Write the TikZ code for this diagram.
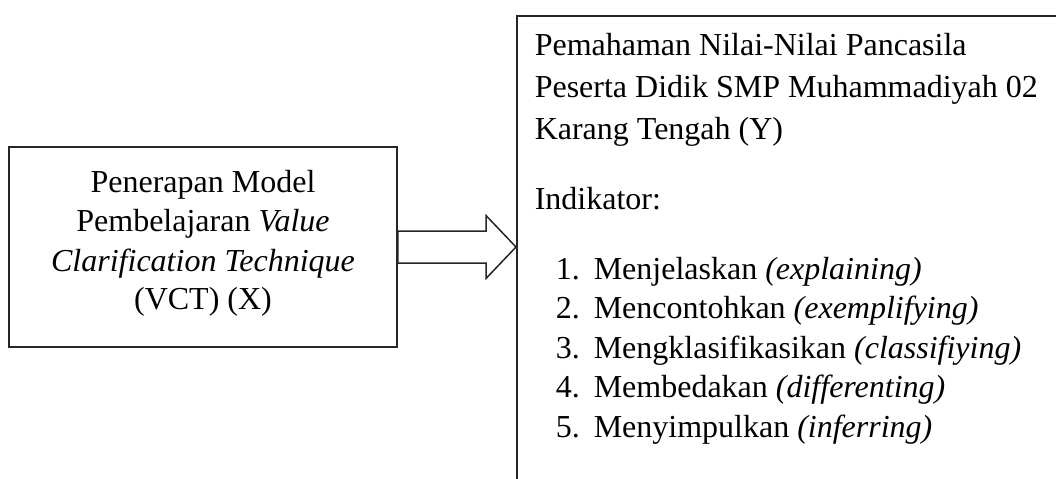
\documentclass[tikz,border=0pt]{standalone}
\usepackage{fontspec}
\setmainfont{Liberation Serif}
\usetikzlibrary{calc}
\begin{document}
\begin{tikzpicture}[x=0.5pt,y=-0.5pt, line width=0.75pt,
  boxline/.style={draw=black!85, inner sep=0pt},
  txt/.style={font=\fontsize{16}{19.5}\selectfont, inner sep=0pt, anchor=base west},
  ctxt/.style={font=\fontsize{16}{19.5}\selectfont, inner sep=0pt, anchor=base}]
\useasboundingbox (0,0) rectangle (1056,478);
\clip (0,0) rectangle (1056,478);
\fill[white] (0,0) rectangle (1056,478);
% left box
\node[boxline, minimum width=194pt, minimum height=100pt] (xbox) at (203,247) {};
\node[ctxt] (x1) at (203,192) {Penerapan Model};
\node[ctxt] (x2) at (203,231) {Pembelajaran \textit{Value}};
\node[ctxt] (x3) at (203,271) {\textit{Clarification Technique}};
\node[ctxt] (x4) at (203,309) {(VCT) (X)};
% right box (cut off by the page edge)
\node[boxline, anchor=north west, minimum width=400pt, minimum height=300pt] (ybox) at (516,15) {};
\node[txt] (y1) at (534,55) {Pemahaman Nilai-Nilai Pancasila};
\node[txt] (y2) at (534,97) {Peserta Didik SMP Muhammadiyah 02};
\node[txt] (y3) at (534,139) {Karang Tengah (Y)};
\node[txt] (ind) at (534,209) {Indikator:};
\node[txt] (n1) at (555,279) {1.};
\node[txt] (i1) at (593,279) {Menjelaskan \textit{(explaining)}};
\node[txt] (n2) at (555,318.5) {2.};
\node[txt] (i2) at (593,318.5) {Mencontohkan \textit{(exemplifying)}};
\node[txt] (n3) at (555,358) {3.};
\node[txt] (i3) at (593,358) {Mengklasifikasikan \textit{(classifiying)}};
\node[txt] (n4) at (555,397.5) {4.};
\node[txt] (i4) at (593,397.5) {Membedakan \textit{(differenting)}};
\node[txt] (n5) at (555,437) {5.};
\node[txt] (i5) at (593,437) {Menyimpulkan \textit{(inferring)}};
% block arrow
\coordinate (tip) at (ybox.west |- xbox.east);
\draw[draw=black!85, fill=white, line join=miter]
  ($(xbox.east)+(0,-16)$) -- ($(tip)+(-30,-16)$) -- ($(tip)+(-30,-31.5)$) -- (tip)
  -- ($(tip)+(-30,31.5)$) -- ($(tip)+(-30,16)$) -- ($(xbox.east)+(0,16)$) -- cycle;
\end{tikzpicture}
\end{document}
